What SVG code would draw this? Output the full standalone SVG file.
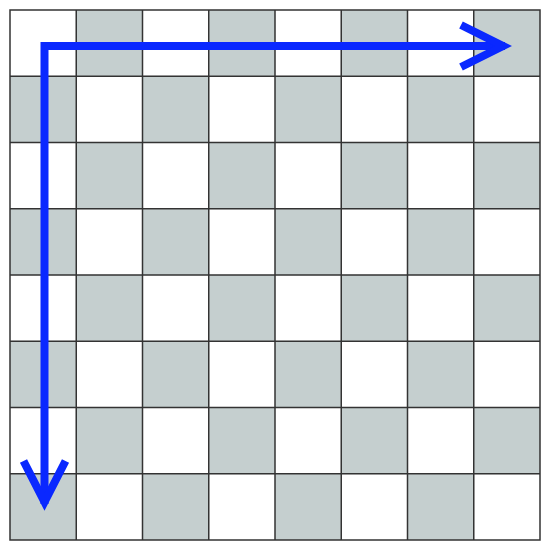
<svg xmlns="http://www.w3.org/2000/svg" width="550" height="550" viewBox="0 0 550 550">
<defs>
<style>
.g{fill:#c5cfcf}
.ln{stroke:#333;stroke-width:1.5;fill:none}
.ar{stroke:#0a28ff;stroke-width:8;fill:none;stroke-linejoin:miter;stroke-miterlimit:10}
</style>
<pattern id="chk" x="10" y="10" width="132.5" height="132.5" patternUnits="userSpaceOnUse">
<rect x="66.25" y="0" width="66.25" height="66.25" class="g"/>
<rect x="0" y="66.25" width="66.25" height="66.25" class="g"/>
</pattern>
</defs>
<rect width="550" height="550" fill="#fff"/>
<g id="board">
<rect x="10" y="10" width="530" height="530" fill="url(#chk)"/>
<path class="ln" d="M10,10H540V540H10Z M76.25,10V540 M142.5,10V540 M208.75,10V540 M275,10V540 M341.25,10V540 M407.5,10V540 M473.75,10V540 M10,76.25H540 M10,142.5H540 M10,208.75H540 M10,275H540 M10,341.25H540 M10,407.5H540 M10,473.75H540"/>
</g>
<g id="connectors">
<path class="ar" d="M505,46H44.5V504"/>
<polyline class="ar" points="461,25 503,46 461,67"/>
<polyline class="ar" points="23.5,461 44.5,502 65.5,461"/>
</g>
</svg>
